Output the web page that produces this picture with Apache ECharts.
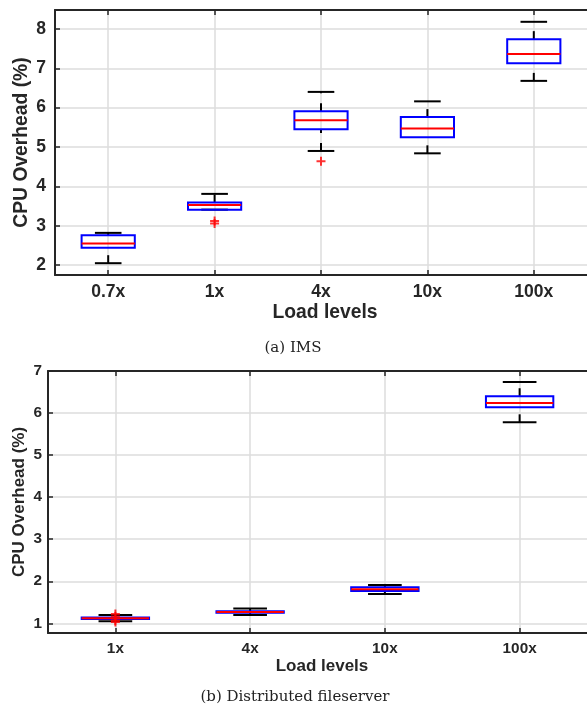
<!DOCTYPE html>
<html><head><meta charset="utf-8">
<script src="https://cdn.jsdelivr.net/npm/echarts@6/dist/echarts.min.js"></script>
<style>html,body{margin:0;padding:0;background:#fff}#c{width:587px;height:711px}</style>
</head><body><div id="c"></div>
<script>
// ---- (a) IMS ----
const imsCategories = ['0.7x', '1x', '4x', '10x', '100x'];
const imsMin    = [2.05, 3.41, 4.90, 4.84, 6.68];
const imsQ1     = [2.44, 3.41, 5.45, 5.25, 7.13];
const imsMedian = [2.55, 3.53, 5.68, 5.47, 7.36];
const imsQ3     = [2.76, 3.59, 5.91, 5.76, 7.74];
const imsMax    = [2.82, 3.81, 6.40, 6.16, 8.18];
const imsOutlierCat = ['1x', '1x', '4x'];
const imsOutlierVal = [3.12, 3.06, 4.64];
const imsYTicks = [2, 3, 4, 5, 6, 7, 8];

// ---- (b) Distributed fileserver ----
const fsCategories = ['1x', '4x', '10x', '100x'];
const fsMin    = [1.05, 1.20, 1.70, 5.78];
const fsQ1     = [1.10, 1.25, 1.77, 6.14];
const fsMedian = [1.12, 1.27, 1.81, 6.24];
const fsQ3     = [1.14, 1.29, 1.86, 6.40];
const fsMax    = [1.20, 1.35, 1.91, 6.74];
const fsOutlierCat = ['1x', '1x', '1x', '1x'];
const fsOutlierVal = [1.22, 1.16, 1.07, 1.03];
const fsYTicks = [1, 2, 3, 4, 5, 6, 7];

const AXC = '#262626';
const GRIDC = '#dcdcdc';
const SANS = '"Liberation Sans", Arial, sans-serif';
const SERIF = '"DejaVu Serif", "Liberation Serif", serif';
const PLUS = 'path://M0,3.9H10V6.1H0Z M3.9,0H6.1V10H3.9Z';

function boxData(cats, mn, q1, md, q3, mx) {
  return cats.map((c, i) => [i + 1, mn[i], q1[i], md[i], q3[i], mx[i]]);
}
function outlierData(cats, oc, ov) {
  return oc.map((c, i) => [cats.indexOf(c) + 1, ov[i]]);
}
function makeRender(lw) {
  return function (params, api) {
    const x = api.value(0);
    const lo = api.coord([x, api.value(1)]);
    const q1 = api.coord([x, api.value(2)]);
    const md = api.coord([x, api.value(3)]);
    const q3 = api.coord([x, api.value(4)]);
    const hi = api.coord([x, api.value(5)]);
    const unit = api.size([1, 0])[0];
    const bh = unit * 0.25, ch = unit * 0.125, cx = lo[0];
    const wStyle = { stroke: '#000', lineWidth: lw, lineDash: [8, 10] };
    const cStyle = { stroke: '#000', lineWidth: lw };
    return {
      type: 'group',
      children: [
        { type: 'line', shape: { x1: cx, y1: lo[1], x2: cx, y2: q1[1] }, style: wStyle },
        { type: 'line', shape: { x1: cx, y1: q3[1], x2: cx, y2: hi[1] }, style: wStyle },
        { type: 'line', shape: { x1: cx - ch, y1: lo[1], x2: cx + ch, y2: lo[1] }, style: cStyle },
        { type: 'line', shape: { x1: cx - ch, y1: hi[1], x2: cx + ch, y2: hi[1] }, style: cStyle },
        { type: 'rect', shape: { x: cx - bh, y: q3[1], width: 2 * bh, height: q1[1] - q3[1] },
          style: { fill: 'none', stroke: '#0000ff', lineWidth: lw } },
        { type: 'line', shape: { x1: cx - bh, y1: md[1], x2: cx + bh, y2: md[1] },
          style: { stroke: '#ff0000', lineWidth: lw } }
      ]
    };
  };
}
function xAxes(gridIndex, cats, fs, margin) {
  const ticks = cats.map((c, i) => i + 1);
  const common = {
    type: 'value', gridIndex, min: 0.5, max: cats.length + 0.5,
    axisLine: { show: true, onZero: false, lineStyle: { color: AXC, width: 2 } },
    axisTick: { show: true, inside: true, length: 5, customValues: ticks, lineStyle: { color: AXC, width: 1.5 } }
  };
  return [
    Object.assign({}, common, {
      position: 'bottom',
      axisLabel: { customValues: ticks, formatter: v => cats[Math.round(v) - 1], color: AXC,
        fontSize: fs, fontWeight: 'bold', fontFamily: SANS, margin },
      splitLine: { show: true, lineStyle: { color: GRIDC, width: 1.5 } }
    }),
    Object.assign({}, common, {
      position: 'top', axisLabel: { show: false }, splitLine: { show: false }
    })
  ];
}
function yAxis(gridIndex, min, max, ticks, fs, margin) {
  return {
    type: 'value', gridIndex, min, max, position: 'left',
    axisLine: { show: true, onZero: false, lineStyle: { color: AXC, width: 2 } },
    axisTick: { show: true, inside: true, length: 5, customValues: ticks, lineStyle: { color: AXC, width: 1.5 } },
    axisLabel: { customValues: ticks, color: AXC, fontSize: fs, fontWeight: 'bold', fontFamily: SANS, margin },
    splitLine: { show: true, lineStyle: { color: GRIDC, width: 1.5 } }
  };
}
function txt(text, x, y, size, opts) {
  return Object.assign({
    type: 'text', x, y,
    style: { text, fill: AXC, font: 'bold ' + size + 'px ' + SANS, textAlign: 'center', textVerticalAlign: 'middle' }
  }, opts || {});
}

const chart = echarts.init(document.getElementById('c'), null, { renderer: 'canvas' });
chart.setOption({
  animation: false,
  backgroundColor: '#fff',
  grid: [
    { left: 55, top: 10, height: 265, right: -8 },
    { left: 48, top: 371, height: 262, right: -9 }
  ],
  xAxis: [].concat(xAxes(0, imsCategories, 17.5, 8), xAxes(1, fsCategories, 15.3, 8)),
  yAxis: [
    yAxis(0, 1.75, 8.48, imsYTicks, 17.5, 9),
    yAxis(1, 0.77, 7, fsYTicks, 15.3, 6)
  ],
  series: [
    { type: 'custom', xAxisIndex: 0, yAxisIndex: 0, renderItem: makeRender(2),
      encode: { x: 0, y: [1, 2, 3, 4, 5] },
      data: boxData(imsCategories, imsMin, imsQ1, imsMedian, imsQ3, imsMax), z: 5 },
    { type: 'scatter', xAxisIndex: 0, yAxisIndex: 0, symbol: PLUS, symbolSize: 9,
      itemStyle: { color: '#ff0000' }, data: outlierData(imsCategories, imsOutlierCat, imsOutlierVal), z: 6 },
    { type: 'custom', xAxisIndex: 2, yAxisIndex: 1, renderItem: makeRender(2),
      encode: { x: 0, y: [1, 2, 3, 4, 5] },
      data: boxData(fsCategories, fsMin, fsQ1, fsMedian, fsQ3, fsMax), z: 5 },
    { type: 'scatter', xAxisIndex: 2, yAxisIndex: 1, symbol: PLUS, symbolSize: 9,
      itemStyle: { color: '#ff0000' }, data: outlierData(fsCategories, fsOutlierCat, fsOutlierVal), z: 6 }
  ],
  graphic: [
    txt('CPU Overhead (%)', 22, 142.5, 19.3, { rotation: Math.PI / 2 }),
    txt('Load levels', 325, 312.5, 19.3),
    txt('CPU Overhead (%)', 19.5, 502, 17, { rotation: Math.PI / 2 }),
    txt('Load levels', 322, 666, 17),
    { type: 'text', x: 293, y: 348, style: { text: '(a) IMS', fill: '#222', font: '15px ' + SERIF, textAlign: 'center', textVerticalAlign: 'middle' } },
    { type: 'text', x: 295, y: 697, style: { text: '(b) Distributed fileserver', fill: '#222', font: '15px ' + SERIF, textAlign: 'center', textVerticalAlign: 'middle' } }
  ]
});
</script>
</body></html>
